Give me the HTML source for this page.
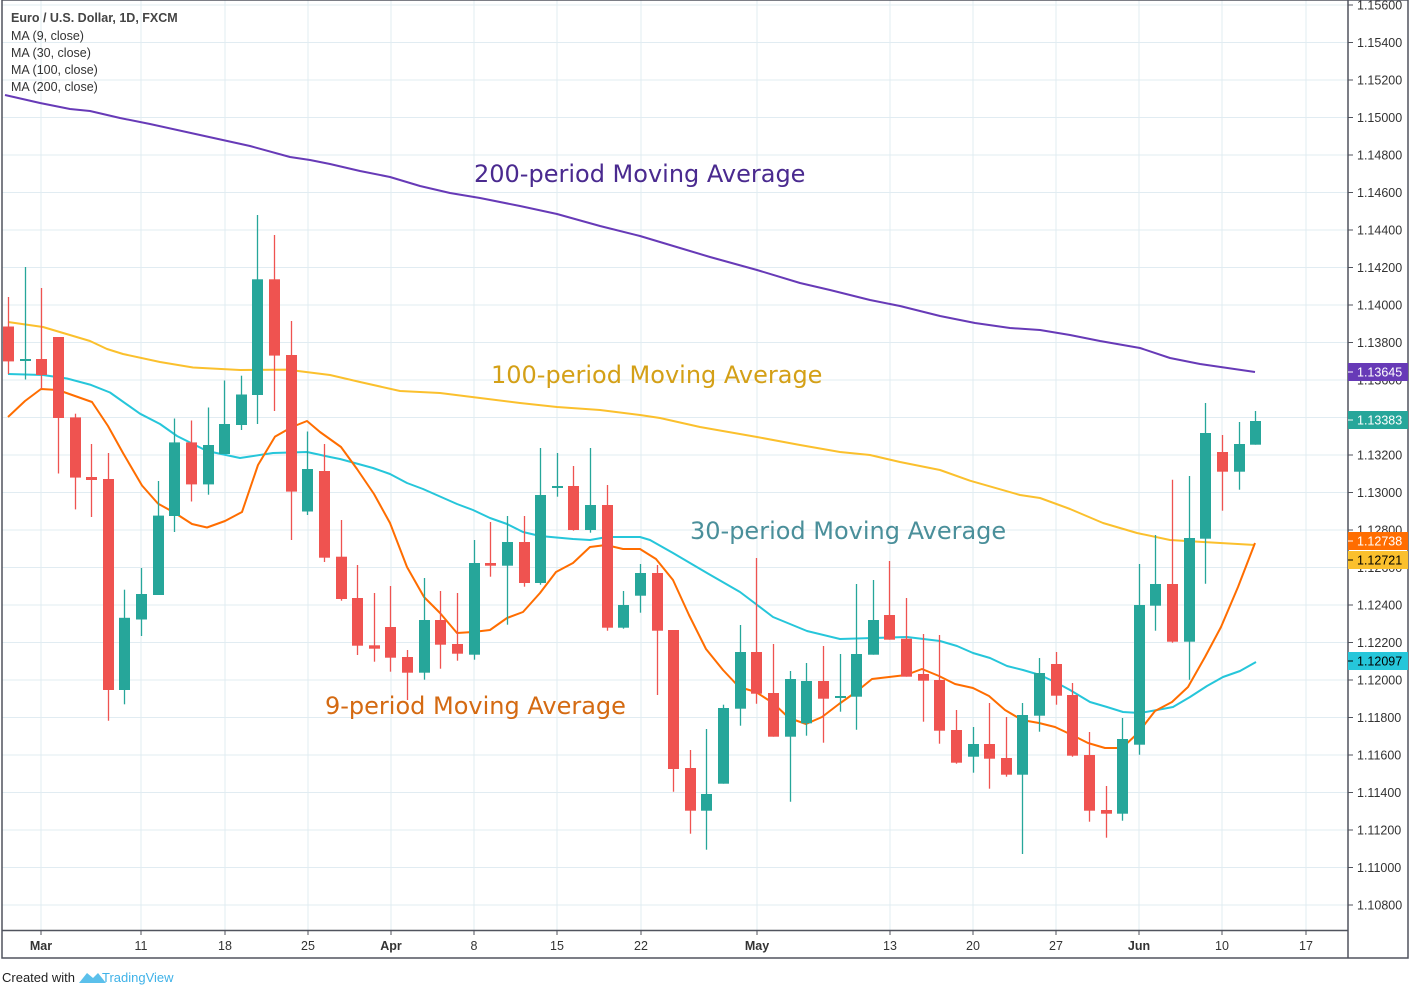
<!DOCTYPE html>
<html><head><meta charset="utf-8">
<style>
html,body{margin:0;padding:0;background:#fff;}
body{width:1415px;height:995px;overflow:hidden;position:relative;font-family:"Liberation Sans",sans-serif;}
svg{position:absolute;left:0;top:0;}
</style></head>
<body>
<svg id="c" width="1415" height="995" xmlns="http://www.w3.org/2000/svg">
<rect x="0" y="0" width="1415" height="995" fill="#fff"/>
<g id="grid" stroke="#e1ecf2" stroke-width="1"></g>
<g id="mas" fill="none" stroke-width="2" stroke-linejoin="round"></g>
<g id="candles"></g>
<g id="labels" font-size="24" font-family="'DejaVu Sans','Liberation Sans',sans-serif">
<text x="474" y="182" fill="#4a2a8f">200-period Moving Average</text>
<text x="491" y="383" fill="#d4a017">100-period Moving Average</text>
<text x="690" y="539" fill="#4a8f9a">30-period Moving Average</text>
<text x="325" y="714" fill="#d46a12">9-period Moving Average</text>
</g>
<g font-size="12.5" fill="#333" font-family="'Liberation Sans',sans-serif">
<text x="11" y="22" font-weight="bold" fill="#444">Euro / U.S. Dollar, 1D, FXCM</text>
<text x="11" y="40">MA (9, close)</text>
<text x="11" y="57">MA (30, close)</text>
<text x="11" y="74">MA (100, close)</text>
<text x="11" y="91">MA (200, close)</text>
</g>
<g id="axis" font-family="'Liberation Sans',sans-serif"></g>
<rect x="2" y="0" width="1406" height="958" fill="none" stroke="#50535e" stroke-width="1.5"/>
<line x1="1348" y1="0" x2="1348" y2="958" stroke="#50535e" stroke-width="1.5"/>
<line x1="2" y1="930.5" x2="1348" y2="930.5" stroke="#50535e" stroke-width="1.5"/>
<g id="badges" font-size="12.5" font-family="'Liberation Sans',sans-serif"></g>
<g font-size="13" fill="#222" font-family="'Liberation Sans',sans-serif">
<text x="2" y="982">Created with</text>
<path d="M79 983 l8 -10 l6 5 l5 -5 l8 10 z" fill="#5bc0eb"/>
<text x="102" y="982" fill="#3fb2e8">TradingView</text>
</g>
</svg>
<script>
const NS="http://www.w3.org/2000/svg";
function el(p,t,a,txt){const e=document.createElementNS(NS,t);for(const k in a)e.setAttribute(k,a[k]);if(txt!==undefined)e.textContent=txt;p.appendChild(e);return e;}
const grid=document.getElementById('grid'),axis=document.getElementById('axis');
const prices=["1.15600","1.15400","1.15200","1.15000","1.14800","1.14600","1.14400","1.14200","1.14000","1.13800","1.13600","1.13400","1.13200","1.13000","1.12800","1.12600","1.12400","1.12200","1.12000","1.11800","1.11600","1.11400","1.11200","1.11000","1.10800"];
prices.forEach((p,i)=>{const y=5+i*37.5;
 el(grid,'line',{x1:2,y1:y,x2:1348,y2:y});
 el(axis,'line',{x1:1348,y1:y,x2:1353,y2:y,stroke:'#50535e'});
 el(axis,'text',{x:1357,y:y+4.5,'font-size':12.5,fill:'#333'},p);
});
const dates=[[41,"Mar",1],[141,"11"],[225,"18"],[308,"25"],[391,"Apr",1],[474,"8"],[557,"15"],[641,"22"],[757,"May",1],[890,"13"],[973,"20"],[1056,"27"],[1139,"Jun",1],[1222,"10"],[1306,"17"]];
dates.forEach(d=>{el(grid,'line',{x1:d[0],y1:0,x2:d[0],y2:930});
 el(axis,'line',{x1:d[0],y1:930,x2:d[0],y2:935,stroke:'#50535e'});
 el(axis,'text',{x:d[0],y:950,'text-anchor':'middle','font-size':12.5,fill:'#333','font-weight':d[2]?'bold':'normal'},d[1]);});
const mas=document.getElementById('mas');
const ma200=[[5,95],[40,103],[70,109],[90,111],[120,118],[150,124],[200,135],[250,146],[290,157],[310,160],[330,164],[360,171],[390,177],[420,186],[450,193],[480,198],[520,206],[557,214],[600,226],[640,236],[680,248],[710,257],[757,270],[800,283],[830,290],[870,300],[900,306],[940,316],[975,323],[1010,328],[1040,330],[1070,335],[1100,341],[1140,348],[1170,358],[1200,364],[1255,372]];
const ma100=[[8,322],[43,327],[90,341],[107,349],[123,354],[160,362],[193,367.5],[240,370],[287,369.6],[330,375],[360,382],[400,391],[440,393],[480,398],[520,403],[557,407],[600,410],[640,415],[660,418],[700,427],[757,437],[800,445],[840,452],[870,455],[900,462],[940,470],[970,480.7],[1020,495],[1040,498],[1070,509],[1103,523],[1137,533],[1170,540],[1203,542],[1255,545]];
const ma30=[[8,374],[43,375],[67,378.5],[90,384.6],[110,392.5],[140,413.7],[160,424],[177,436],[207,451],[240,458],[273,453],[307,452],[330,457],[340,459],[373,468],[390,474],[407,483],[423,489],[457,504],[473,510],[490,518],[507,524],[523,532],[540,536],[573,539],[590,540],[607,537],[640,537],[650,540],[673,553],[707,573],[740,592],[773,617],[807,631],[840,639],[873,638],[907,637],[940,641],[957,646],[973,653],[990,658],[1007,666],[1023,670],[1040,675],[1057,683],[1070,690],[1090,702],[1107,707],[1123,712],[1140,713],[1157,710],[1173,707],[1190,697],[1207,686],[1223,677],[1240,671],[1256,662]];
const ma9=[[8,417],[25,401],[41,389],[58,390],[92,402],[108,426],[123,453],[142,485.5],[158,503.6],[175,513],[192,524],[207,527.5],[225,521],[242,512],[258,465],[275,436.6],[292,427],[307,421],[320,432],[341,447],[357,469],[374,494],[390,523],[407,567],[424,597],[440,613],[457,633],[473,632],[490,630],[507,618],[523,612],[540,593],[556,572],[573,563],[590,547],[606,545],[623,549],[640,549],[656,559],[673,580],[689,615],[706,649],[723,670],[739,687],[756,692],[773,703],[789,718],[806,724],[822,717],[839,704],[856,692],[872,679],[889,677],[906,675],[922,669],[939,676],[955,684],[973,688],[989,696],[1005,710],[1022,720],[1039,723],[1055,727],[1072,735],[1088,743],[1105,748],[1122,748],[1138,733],[1155,711],[1172,702],[1188,687],[1205,657],[1221,627],[1238,587],[1255,543]];
[[ma200,'#673ab7'],[ma100,'#fbc02d'],[ma30,'#26c6da'],[ma9,'#ff6d00']].forEach(m=>{el(mas,'polyline',{points:m[0].map(p=>p.join(',')).join(' '),stroke:m[1]});});
const C=[[326.5,361.4,297,374,0],[359,361,267,379.5,1],[359,375,288,388.7,0],[337,418,337,473.5,0],[417.4,477.6,413.7,509.4,0],[477,480,444,517,0],[479,690,453,720.7,0],[617.8,690,589.7,704.3,1],[594,619.5,568,636,1],[515.6,595,481,595,1],[442.4,516,418.5,532,1],[442.4,484.4,420.5,501.5,0],[445,484.4,407.5,494.7,1],[424,454,380.5,454,1],[394.5,425,375.7,430,1],[279.3,395,215,424,1],[279.3,355.6,235,411,0],[355,491.6,321,540,0],[469,511.5,431.5,515,1],[471,557.7,444,562,0],
[556.7,599,520,600.7,0],[598,645.7,565,655,0],[645.3,648.7,593,661.7,0],[627,657.7,586,671.7,0],[657,672.7,650,700,0],[620,672.7,578,679.7,1],[620,644.7,591,668.7,0],[644,653.7,593,660.7,0],[563,654.7,540,659.7,1],[563,565.7,522,576.7,0],[542,565.7,516,624.7,1],[542,583,516,586.7,0],[495,583,448,584.7,1],[486,488,453,496.7,1],[486,530,466,530.7,0],[505,530,448,532.7,1],[505,627.7,485,630.7,0],[605,627.7,591,628.7,1],[573,595.7,564,612.7,1],[573,630.7,565,695,0],
[630,769,630,791.7,0],[768,810.7,750,833.7,0],[794,810.7,729,849.7,1],[708,783.7,704.7,783.7,1],[652,708.7,625,725.7,1],[652,693.7,558,703.7,0],[693,736.7,644,736.7,0],[679,736.7,671,801.7,1],[681,723.3,663,735.7,1],[681,698.7,646,742.7,0],[696,698,654,711.7,1],[654,696.7,584,729.7,1],[620,654.7,580,654.7,1],[615,639.7,561,639.7,0],[638.7,676.7,598,676.7,0],[674,680.7,634,721.7,0],[680,730.7,635,743.7,0],[730,762.7,710,763.7,0],[744,756.7,727,772.7,1],[744,758.7,703,788.7,0],
[758,774.7,717,776.7,0],[715,774.7,703,854,1],[673,715.7,658,731.7,1],[664,695.7,652,704.7,0],[695,755.7,683,756.7,0],[755,810.7,732,821.7,0],[810,813.7,786,837.7,0],[739,813.7,718,820.7,1],[605,744.7,564,754.7,1],[584,605.7,535,630.7,1],[584,641.7,479.7,642.7,0],[538,641.7,476,679.7,1],[433,538.7,403,583.7,1],[452,471.7,435,510.7,0],[444,471.7,422,489.7,1],[421,444.7,411,444.7,1]];
const cg=document.getElementById('candles');
C.forEach((c,k)=>{const x=Math.round(8+k*16.63);const col=c[4]?'#26a69a':'#ef5350';
 el(cg,'line',{x1:x+0.5,y1:c[2],x2:x+0.5,y2:c[3],stroke:col,'stroke-width':1.3});
 el(cg,'rect',{x:x-5,y:c[0],width:11,height:Math.max(2,c[1]-c[0]),fill:col});});
const bg=document.getElementById('badges');
[[372,'1.13645','#673ab7','#fff'],[420,'1.13383','#26a69a','#fff'],[541,'1.12738','#ff6d00','#fff'],[560,'1.12721','#fbc02d','#000'],[661,'1.12097','#26c6da','#000']].forEach(b=>{
 el(bg,'rect',{x:1348,y:b[0]-9,width:60,height:18,fill:b[2]});
 el(bg,'line',{x1:1348,y1:b[0],x2:1353,y2:b[0],stroke:b[3]});
 el(bg,'text',{x:1357,y:b[0]+4.5,fill:b[3]},b[1]);});
</script>
</body></html>
